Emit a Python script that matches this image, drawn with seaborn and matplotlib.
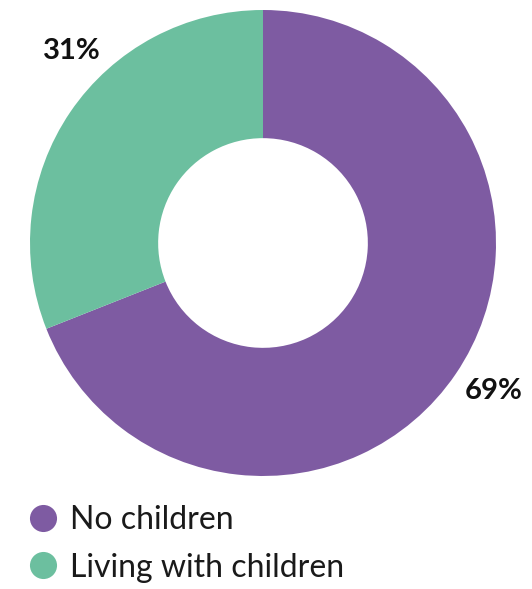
import matplotlib
matplotlib.use("Agg")
import matplotlib.pyplot as plt
from matplotlib.lines import Line2D
import seaborn as sns

categories = ["No children", "Living with children"]
values = [69, 31]
labels = ["69%", "31%"]
colors = ["#7E5BA2", "#6CBF9F"]

sns.set_theme(style="white")
plt.rcParams["font.family"] = ["Lato", "DejaVu Sans"]

W, H = 532, 589
fig = plt.figure(figsize=(W / 100, H / 100), dpi=100)
fig.patch.set_facecolor("white")

cx, cy, r = 263, 243, 233
ax = fig.add_axes([(cx - r) / W, (H - cy - r) / H, 2 * r / W, 2 * r / H])
wedges, _ = ax.pie(values, colors=colors, startangle=90, counterclock=False,
                   radius=1, wedgeprops=dict(width=0.55, linewidth=0))
ax.set_xlim(-1, 1)
ax.set_ylim(-1, 1)
ax.set_aspect("equal")
ax.axis("off")

fig.text(494 / W, 1 - 391 / H, labels[0], ha="center", va="center",
         fontsize=21, fontweight="bold", color="#111111")
fig.text(72 / W, 1 - 51 / H, labels[1], ha="center", va="center",
         fontsize=21, fontweight="bold", color="#111111")

handles = [Line2D([0], [0], marker="o", linestyle="none", markersize=19.5,
                  markerfacecolor=c, markeredgewidth=0) for c in colors]
leg = fig.legend(handles, categories, loc="upper left",
                 bbox_to_anchor=(27 / W, 1 - 505 / H), frameon=False,
                 fontsize=23, handletextpad=0.35, labelspacing=0.55,
                 handlelength=1.0, borderaxespad=0, borderpad=0)
for t in leg.get_texts():
    t.set_color("#1a1a1a")

fig.savefig("out.png", dpi=100)
